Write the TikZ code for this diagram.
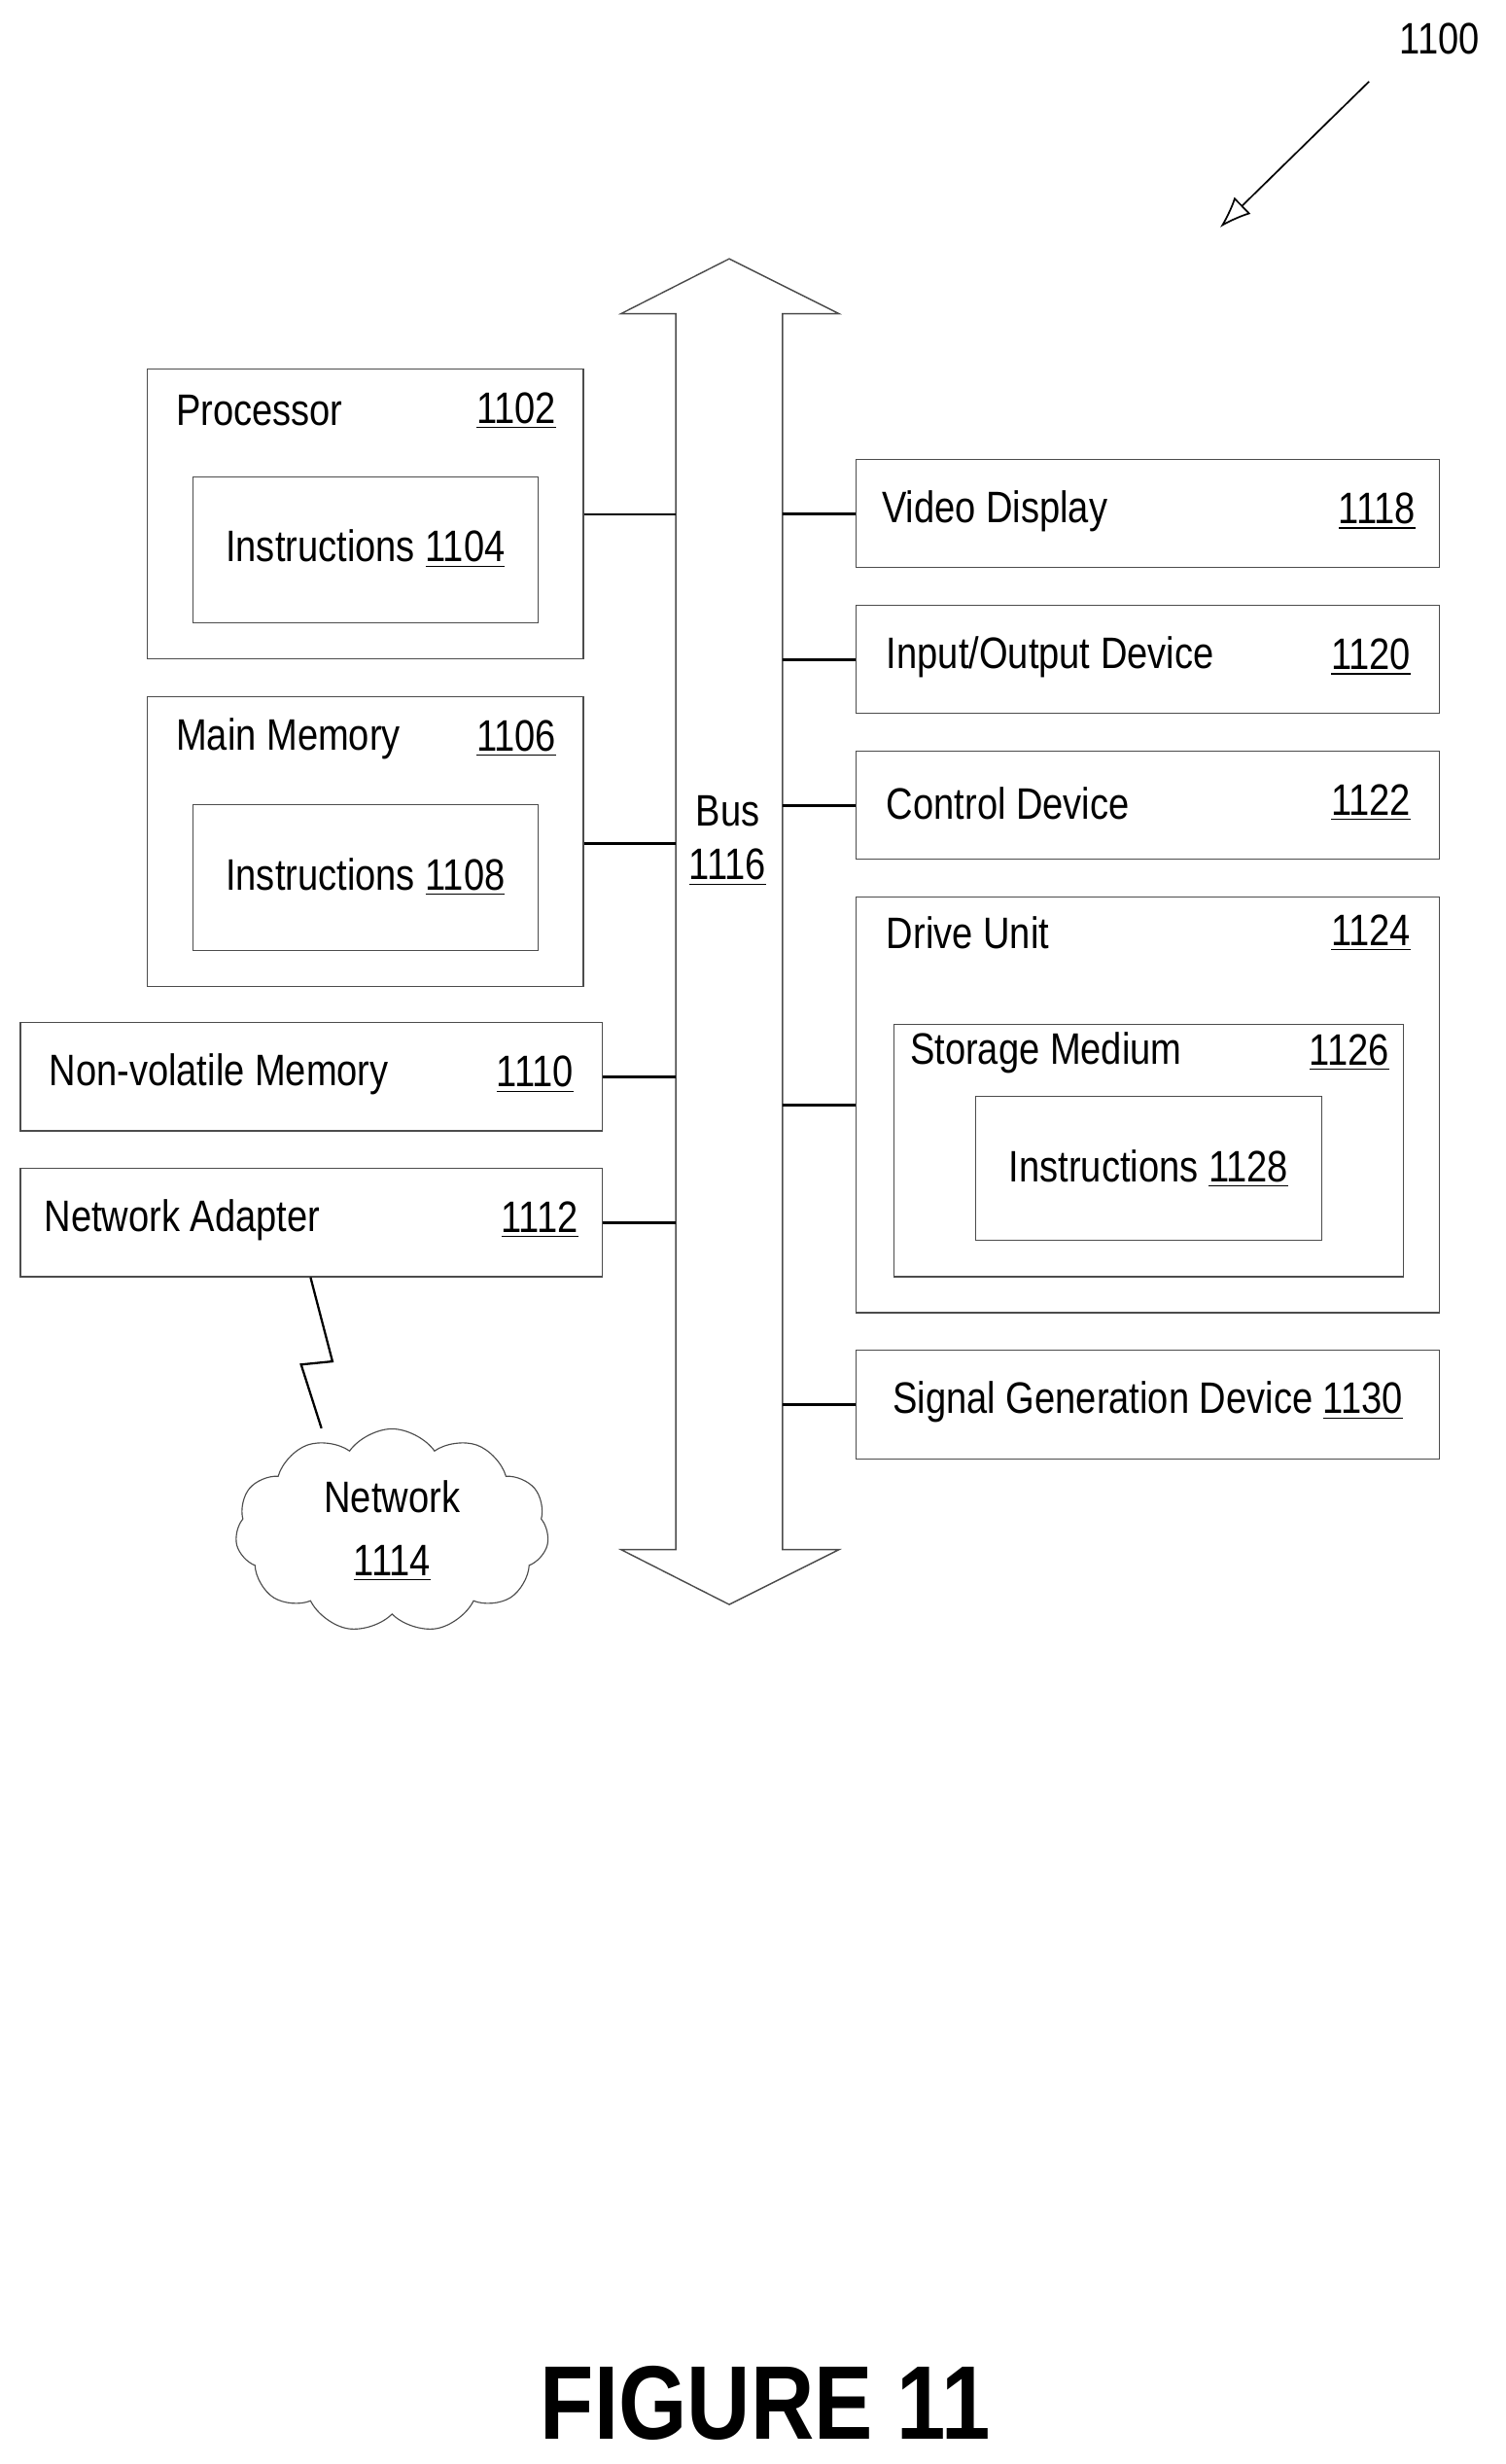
\documentclass[tikz,border=0pt]{standalone}
\usepackage{fontspec}
\setmainfont{Liberation Sans}[FakeStretch=0.84]
\usetikzlibrary{shapes.symbols, arrows.meta, positioning}

\begin{document}
\begin{tikzpicture}[x=0.02cm, y=-0.02cm,
  box/.style={
    rectangle,
    draw=black!70,
    line width=0.4pt,
    inner sep=0pt
  },
  lbl/.style={
    font=\fontsize{16}{19}\selectfont,
    inner sep=0pt
  },
  link/.style={
    line width=1pt,
    draw=black
  }
]
\useasboundingbox (0,0) rectangle (960,1571);

% Bus
\draw[black!70, line width=0.5pt]
  (431,988) -- (431,200) -- (396,200) -- (465,165) -- (535,200) -- (499,200)
  -- (499,988) -- (535,988) -- (465,1023) -- (396,988) -- cycle;
\coordinate (busL) at (431,0);
\coordinate (busR) at (499,0);
\node[lbl] (bus) at (464,517) {Bus};
\node[lbl] (busnum) at (464,553) {\underline{1116}};

% Left side
\node[box, minimum width=5.56cm, minimum height=3.7cm] (proc) at (233,327.5) {};
\node[box, minimum width=4.4cm, minimum height=1.86cm] (procins) at (233,350.5) {};
\node[lbl, anchor=west] at (112,262) {Processor};
\node[lbl, anchor=east] at (355,262) {\underline{1102}};
\node[lbl] at (233,350) {Instructions \underline{1104}};

\node[box, minimum width=5.56cm, minimum height=3.7cm] (mem) at (233,536.5) {};
\node[box, minimum width=4.4cm, minimum height=1.86cm] (memins) at (233,559.5) {};
\node[lbl, anchor=west] at (112,471) {Main Memory};
\node[lbl, anchor=east] at (355,471) {\underline{1106}};
\node[lbl] at (233,559) {Instructions \underline{1108}};

\node[box, minimum width=7.42cm, minimum height=1.38cm] (nvm) at (198.5,686.5) {};
\node[lbl, anchor=west] at (31,685) {Non-volatile Memory};
\node[lbl, anchor=east] at (366,685) {\underline{1110}};

\node[box, minimum width=7.42cm, minimum height=1.38cm] (net) at (198.5,779.5) {};
\node[lbl, anchor=west] at (28,778) {Network Adapter};
\node[lbl, anchor=east] at (369,778) {\underline{1112}};

% Network
\node[cloud, draw=black!70, cloud puffs=11, cloud puff arc=110, aspect=1.5,
  minimum width=4cm, minimum height=2.6cm, align=center, lbl, inner sep=0pt] (cloud) at (250,976)
  {Network\\[4pt]\underline{1114}};
\draw[black, line width=0.8pt] (net.south -| 198,0) -- (212,868) -- (192,870) -- (cloud.north -| 205,0);

% Right side
\node[box, minimum width=7.44cm, minimum height=1.38cm] (vid) at (732,327.5) {};
\node[lbl, anchor=west] at (562,326) {Video Display};
\node[lbl, anchor=east] at (903,326) {\underline{1118}};

\node[box, minimum width=7.44cm, minimum height=1.38cm] (io) at (732,420.5) {};
\node[lbl, anchor=west] at (565,419) {Input/Output Device};
\node[lbl, anchor=east] at (900,419) {\underline{1120}};

\node[box, minimum width=7.44cm, minimum height=1.38cm] (ctrl) at (732,513.5) {};
\node[lbl, anchor=west] at (565,512) {Control Device};
\node[lbl, anchor=east] at (900,512) {\underline{1122}};

\node[box, minimum width=7.44cm, minimum height=5.3cm] (drive) at (732,704.5) {};
\node[lbl, anchor=west] at (565,595) {Drive Unit};
\node[lbl, anchor=east] at (900,595) {\underline{1124}};
\node[box, minimum width=6.5cm, minimum height=3.22cm] (store) at (732.5,733.5) {};
\node[lbl, anchor=west] at (580,671) {Storage Medium};
\node[lbl, anchor=east] at (886,671) {\underline{1126}};
\node[box, minimum width=4.42cm, minimum height=1.84cm] (storeins) at (732.5,745) {};
\node[lbl] at (732.5,745) {Instructions \underline{1128}};

\node[box, minimum width=7.44cm, minimum height=1.38cm] (sig) at (732,895.5) {};
\node[lbl] at (732,894) {Signal Generation Device \underline{1130}};

% Links to bus
\draw[link] (proc.east |- 0,328) -- (busL |- 0,328);
\draw[link] (mem.east |- 0,538) -- (busL |- 0,538);
\draw[link] (nvm.east) -- (nvm.east -| busL);
\draw[link] (net.east) -- (net.east -| busL);
\draw[link] (vid.west) -- (vid.west -| busR);
\draw[link] (io.west) -- (io.west -| busR);
\draw[link] (ctrl.west) -- (ctrl.west -| busR);
\draw[link] (drive.west) -- (drive.west -| busR);
\draw[link] (sig.west) -- (sig.west -| busR);

% Reference numeral
\node[lbl] (ref) at (918,25) {1100};
\coordinate (reftail) at (873,52);
\coordinate (refhead) at (778,145);
\draw[black, line width=0.6pt, -{Latex[open, length=4mm, width=3mm]}] (reftail) -- (refhead);

% Caption
\node[font=\fontsize{38}{42}\selectfont\bfseries, inner sep=0pt] (fig) at (488,1532) {FIGURE 11};
\end{tikzpicture}
\end{document}
